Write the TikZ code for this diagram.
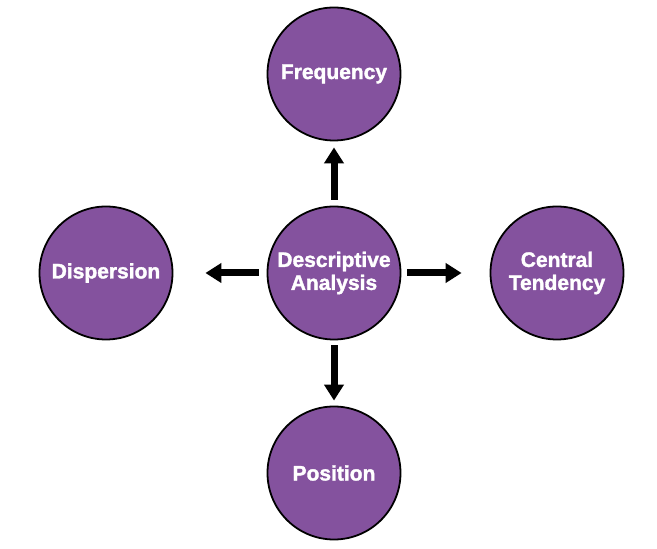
\documentclass[tikz,border=0pt]{standalone}
\usepackage{fontspec}
\setmainfont[BoldFeatures={FakeBold=1.6}]{Liberation Sans}
\usetikzlibrary{arrows.meta}
\definecolor{nodepurple}{RGB}{132,82,158}
\begin{document}
\begin{tikzpicture}[x=1pt,y=1pt,
  bubble/.style={circle, fill=nodepurple, draw=black, line width=1.8pt,
    minimum size=133pt, inner sep=0pt, align=center, text=white,
    font=\fontsize{21}{23}\selectfont\bfseries},
  bigarrow/.style={line width=7pt, -{Triangle[length=16pt,width=19pt]}}]
\useasboundingbox[fill=white] (0,0) rectangle (657,549);
\node[bubble] (da) at (334,276) {Descriptive\\Analysis};
\node[bubble] (freq) at (334,475) {Frequency};
\node[bubble] (disp) at (106,276) {Dispersion};
\node[bubble] (cent) at (557,276) {Central\\Tendency};
\node[bubble] (pos) at (334,76) {Position};
\draw[bigarrow, shorten <=6pt, shorten >=6pt] (da) -- (freq);
\draw[bigarrow, shorten <=5pt, shorten >=5pt] (da) -- (pos);
\draw[bigarrow, shorten <=8pt, shorten >=32pt] (da) -- (disp);
\draw[bigarrow, shorten <=6pt, shorten >=28pt] (da) -- (cent);
\end{tikzpicture}
\end{document}
